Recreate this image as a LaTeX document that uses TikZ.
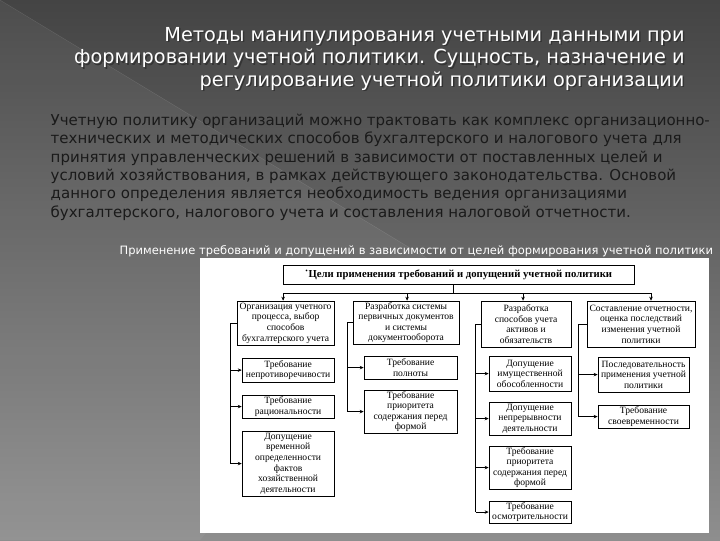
\documentclass[tikz,border=0pt]{standalone}
\usepackage{fontspec}
\newfontfamily\slidefont{DejaVu Sans}
\newfontfamily\chartfont{Liberation Serif}
\usetikzlibrary{arrows.meta}
\definecolor{slidetop}{HTML}{444444}
\definecolor{slidebot}{HTML}{8E8E8E}
\definecolor{bodyink}{HTML}{1A1A1A}

\tikzset{
  hdr/.style={draw=black, line width=0.8pt, fill=white, align=center, inner sep=1pt,
    font=\chartfont\fontsize{9.6}{10.6}\selectfont},
  req/.style={hdr},
  link/.style={line width=0.7pt},
  arr/.style={link, -{Stealth[length=4pt,width=3.5pt]}}
}

\begin{document}
\begin{tikzpicture}[x=1pt,y=-1pt]
% фон слайда
\shade[top color=slidetop, bottom color=slidebot] (0,0) rectangle (720,540);
\fill[white, opacity=0.05] (0,0) -- (430,260) -- (200,540) -- (0,540) -- cycle;
\draw[white, opacity=0.12] (0,0) -- (430,260);
\useasboundingbox (0,0) rectangle (720,540);

% заголовок
\node[anchor=base east, align=right, text=black!80, font=\slidefont\fontsize{19.3}{22.5}\selectfont] (titleshadow) at (689.5,87.5)
  {Методы манипулирования учетными данными при\\ формировании учетной политики. Сущность, назначение и\\ регулирование учетной политики организации};
\node[anchor=base east, align=right, text=white, font=\slidefont\fontsize{19.3}{22.5}\selectfont] (title) at (688,86)
  {Методы манипулирования учетными данными при\\ формировании учетной политики. Сущность, назначение и\\ регулирование учетной политики организации};

% текст
\node[anchor=base west, align=left, text=bodyink, font=\slidefont\fontsize{15.0}{18.3}\selectfont] (body) at (47,217)
  {Учетную политику организаций можно трактовать как комплекс организационно-\\
   технических и методических способов бухгалтерского и налогового учета для\\
   принятия управленческих решений в зависимости от поставленных целей и\\
   условий хозяйствования, в рамках действующего законодательства. Основой\\
   данного определения является необходимость ведения организациями\\
   бухгалтерского, налогового учета и составления налоговой отчетности.};

% подпись
\node[anchor=base west, text=white, font=\slidefont\fontsize{11.5}{13}\selectfont] (caption) at (116,254)
  {Применение требований и допущений в зависимости от целей формирования учетной политики};

% схема
\fill[white] (200,258) rectangle (709,533);
\node[hdr, minimum width=351pt, minimum height=19pt, font=\chartfont\bfseries\fontsize{10.7}{12}\selectfont] (goal) at (458.5,274.5)
  {\raisebox{3pt}{·}Цели применения требований и допущений учетной политики};

\node[hdr, minimum width=97pt, minimum height=44pt] (h1) at (285.5,323) {Организация учетного\\ процесса, выбор\\ способов\\ бухгалтерского учета};
\node[hdr, minimum width=106pt, minimum height=43pt] (h2) at (406,322.5) {Разработка системы\\ первичных документов\\ и системы\\ документооборота};
\node[hdr, minimum width=90pt, minimum height=46pt] (h3) at (526,324) {Разработка\\ способов учета\\ активов и\\ обязательств};
\node[hdr, minimum width=108pt, minimum height=46pt] (h4) at (641,324) {Составление отчетности,\\ оценка последствий\\ изменения учетной\\ политики};

\node[req, minimum width=92pt, minimum height=24pt] (s11) at (288,370) {Требование\\ непротиворечивости};
\node[req, minimum width=92pt, minimum height=23pt] (s12) at (288,406.5) {Требование\\ рациональности};
\node[req, minimum width=92pt, minimum height=65pt] (s13) at (288,463.5) {Допущение\\ временной\\ определенности\\ фактов\\ хозяйственной\\ деятельности};

\node[req, minimum width=93pt, minimum height=23pt] (s21) at (410.5,367.5) {Требование\\ полноты};
\node[req, minimum width=93pt, minimum height=43pt] (s22) at (410.5,411.5) {Требование\\ приоритета\\ содержания перед\\ формой};

\node[req, minimum width=82pt, minimum height=35pt] (s31) at (530,373.5) {Допущение\\ имущественной\\ обособленности};
\node[req, minimum width=82pt, minimum height=33pt] (s32) at (530,418.5) {Допущение\\ непрерывности\\ деятельности};
\node[req, minimum width=82pt, minimum height=43pt] (s33) at (530,467.5) {Требование\\ приоритета\\ содержания перед\\ формой};
\node[req, minimum width=82pt, minimum height=22pt] (s34) at (530,512) {Требование\\ осмотрительности};

\node[req, minimum width=91pt, minimum height=35pt] (s41) at (643.5,374.5) {Последовательность\\ применения учетной\\ политики};
\node[req, minimum width=91pt, minimum height=23pt] (s42) at (643.5,416.5) {Требование\\ своевременности};

% шина от цели к направлениям
\coordinate (stem) at (453,293);
\coordinate (b1) at (283,293);
\coordinate (b2) at (407,293);
\coordinate (b3) at (523,293);
\coordinate (b4) at (651,293);
\draw[link] (stem |- goal.south) -- (stem);
\draw[link] (b1) -- (b4);
\foreach \i in {1,...,4}
  \draw[arr] (b\i) -- (b\i |- h\i.north);

% требования и допущения
\draw[link] (h1.west) -- ++(-6,0) coordinate (t1) -- (t1 |- s13.west);
\foreach \s in {s11,s12,s13}
  \draw[arr] (t1 |- \s.west) -- (\s.west);
\draw[link] (h2.west) -- ++(-5,0) coordinate (t2) -- (t2 |- s22.west);
\foreach \s in {s21,s22}
  \draw[arr] (t2 |- \s.west) -- (\s.west);
\draw[link] (h3.west) -- ++(-5,0) coordinate (t3) -- (t3 |- s34.west);
\foreach \s in {s31,s32,s33,s34}
  \draw[arr] (t3 |- \s.west) -- (\s.west);
\draw[link] (h4.west) -- ++(-8,0) coordinate (t4) -- (t4 |- s42.west);
\foreach \s in {s41,s42}
  \draw[arr] (t4 |- \s.west) -- (\s.west);
\end{tikzpicture}
\end{document}
